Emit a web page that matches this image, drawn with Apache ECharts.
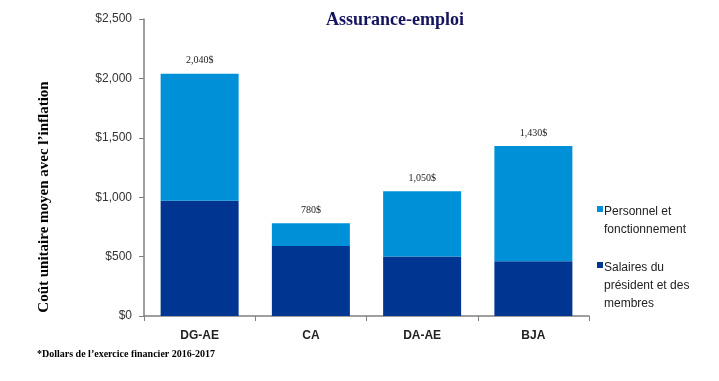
<!DOCTYPE html>
<html><head><meta charset="utf-8">
<script src="https://cdn.jsdelivr.net/npm/echarts@6/dist/echarts.min.js"></script>
<style>html,body{margin:0;padding:0;background:#fff}#c{width:719px;height:381px}</style>
</head><body><div id="c"></div>
<script>
const categories = ['DG-AE', 'CA', 'DA-AE', 'BJA'];
const salaires = [970, 590, 500, 460];
const personnel = [1070, 190, 550, 970];
const totalLabels = ['2,040$', '780$', '1,050$', '1,430$'];
const yTicks = ['$0', '$500', '$1,000', '$1,500', '$2,000', '$2,500'];
const seriesNames = ['Personnel et\nfonctionnement', 'Salaires du\nprésident et des\nmembres'];
const colors = ['#0090d8', '#003591'];

const chart = echarts.init(document.getElementById('c'));
chart.setOption({
  animation: false,
  backgroundColor: '#fff',
  title: {
    text: 'Assurance-emploi', left: 390, top: 6, textAlign: 'center',
    textStyle: {fontFamily: 'Liberation Serif', fontWeight: 'bold', fontSize: 18, color: '#14145e'}
  },
  graphic: [
    {type: 'text', left: 37, top: 349, style: {text: '*Dollars de l\u2019exercice financier 2016-2017', font: 'bold 10px "Liberation Serif"', fill: '#000'}},
    {type: 'text', x: 44, y: 197, rotation: Math.PI / 2,
      style: {text: 'Coût unitaire moyen avec l\u2019inflation', font: 'bold 15px "Liberation Serif"', fill: '#000', align: 'center', verticalAlign: 'middle'}},
    {type: 'rect', shape: {x: 597, y: 206, width: 6, height: 6}, style: {fill: colors[0]}},
    {type: 'text', x: 604, y: 203, style: {text: seriesNames[0], font: '12px "Liberation Sans"', fill: '#222', lineHeight: 18, verticalAlign: 'top'}},
    {type: 'rect', shape: {x: 597, y: 262, width: 6, height: 6}, style: {fill: colors[1]}},
    {type: 'text', x: 604, y: 259, style: {text: seriesNames[1], font: '12px "Liberation Sans"', fill: '#222', lineHeight: 18, verticalAlign: 'top'}}
  ],
  grid: {left: 144, right: 130, top: 19, bottom: 65},
  xAxis: {
    type: 'category', data: categories,
    axisLine: {lineStyle: {color: '#808080', width: 1.5}},
    axisTick: {show: true, length: 5, inside: false, lineStyle: {color: '#808080'}},
    axisLabel: {fontFamily: 'Liberation Sans', fontWeight: 'bold', fontSize: 12, color: '#222', margin: 14}
  },
  yAxis: {
    type: 'value', min: 0, max: 2500, interval: 500,
    axisLine: {show: true, lineStyle: {color: '#808080', width: 1.5}},
    axisTick: {show: true, length: 5, lineStyle: {color: '#808080'}},
    splitLine: {show: false},
    axisLabel: {fontFamily: 'Liberation Sans', fontSize: 12, color: '#333', margin: 12,
      formatter: (v) => yTicks[Math.round(v / 500)]}
  },
  series: [
    {name: seriesNames[1], type: 'bar', stack: 's', data: salaires, barWidth: 78,
      itemStyle: {color: colors[1]}},
    {name: seriesNames[0], type: 'bar', stack: 's', data: personnel, barWidth: 78,
      itemStyle: {color: colors[0]},
      label: {show: true, position: 'top', distance: 8,
        formatter: (p) => totalLabels[p.dataIndex],
        fontFamily: 'Liberation Serif', fontSize: 10, color: '#222'}}
  ]
});
</script></body></html>
